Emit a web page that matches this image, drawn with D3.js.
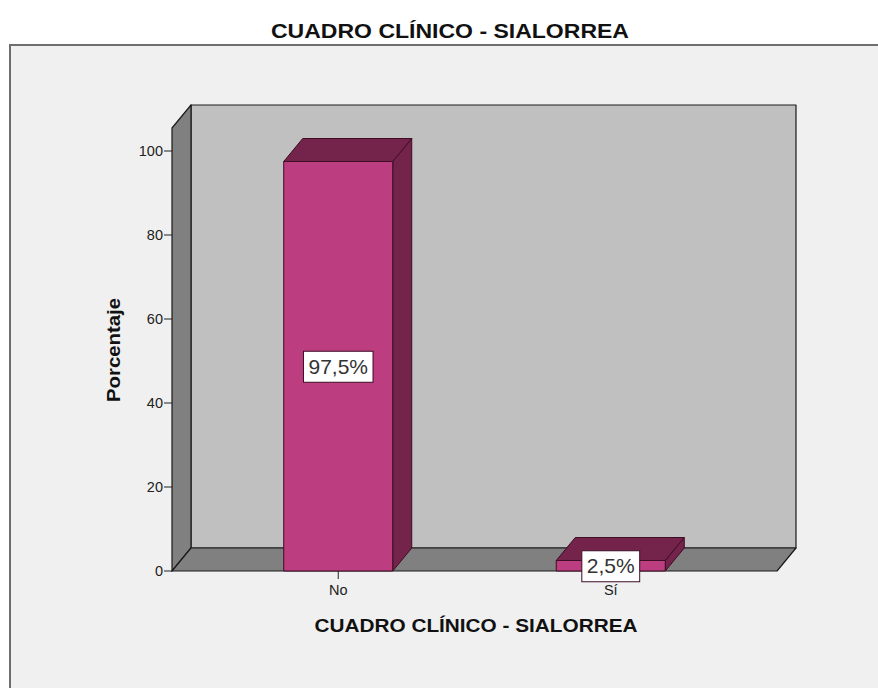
<!DOCTYPE html>
<html>
<head>
<meta charset="utf-8">
<script src="https://cdn.jsdelivr.net/npm/d3@7"></script>
<style>
  html, body { margin: 0; padding: 0; background: #ffffff; }
  svg { display: block; }
  text { font-family: "Liberation Sans", Arial, sans-serif; }
  .narrow { font-family: "Liberation Sans Narrow", "Arial Narrow", "Liberation Sans", Arial, sans-serif; }
</style>
</head>
<body>
<svg id="chart" width="878" height="688"></svg>
<script>
// Data
const categories = ["No", "Sí"];
const percentages = [97.5, 2.5];
const valueLabels = ["97,5%", "2,5%"];
const yTicks = [0, 20, 40, 60, 80, 100];
const chartTitle = "CUADRO CLÍNICO - SIALORREA";
const xTitle = "CUADRO CLÍNICO - SIALORREA";
const yTitle = "Porcentaje";

const svg = d3.select("#chart");

// Plot frame
const frame = { left: 172, right: 777, top: 151, bottom: 571 };
const depth = { dx: 19, dy: 23 };

const x = d3.scaleBand()
  .domain(categories)
  .range([frame.left, frame.right])
  .paddingInner(0.6)
  .paddingOuter(0.41);

const y = d3.scaleLinear()
  .domain([0, 100])
  .range([frame.bottom, frame.top]);

// Outer panel
svg.append("rect")
  .attr("x", 10).attr("y", 45)
  .attr("width", 900).attr("height", 700)
  .attr("fill", "#f0f0f0")
  .attr("stroke", "#6e6e6e").attr("stroke-width", 2);

// Titles
svg.append("text")
  .attr("class", "narrow")
  .attr("x", 450).attr("y", 38)
  .attr("text-anchor", "middle")
  .attr("font-weight", "bold").attr("font-size", 21)
  .attr("textLength", 358).attr("lengthAdjust", "spacingAndGlyphs")
  .attr("fill", "#111")
  .text(chartTitle);

svg.append("text")
  .attr("x", 476).attr("y", 632)
  .attr("text-anchor", "middle")
  .attr("font-weight", "bold").attr("font-size", 18)
  .attr("textLength", 323).attr("lengthAdjust", "spacingAndGlyphs")
  .attr("fill", "#111")
  .text(xTitle);

svg.append("text")
  .attr("transform", "translate(120,350) rotate(-90)")
  .attr("text-anchor", "middle")
  .attr("font-weight", "bold").attr("font-size", 18)
  .attr("textLength", 104).attr("lengthAdjust", "spacingAndGlyphs")
  .attr("fill", "#111")
  .text(yTitle);

// 3D walls
const y0 = y(0);
const sideTop = 128;
const backTop = sideTop - depth.dy;
const walls = svg.append("g").attr("stroke", "#1a1a1a").attr("stroke-width", 1.2).attr("stroke-linejoin", "round");

// back wall
walls.append("polygon")
  .attr("points", [
    [frame.left + depth.dx, backTop],
    [frame.right + depth.dx, backTop],
    [frame.right + depth.dx, y0 - depth.dy],
    [frame.left + depth.dx, y0 - depth.dy]
  ].join(" "))
  .attr("fill", "#c0c0c0");

// left side wall
walls.append("polygon")
  .attr("points", [
    [frame.left, sideTop],
    [frame.left + depth.dx, backTop],
    [frame.left + depth.dx, y0 - depth.dy],
    [frame.left, y0]
  ].join(" "))
  .attr("fill", "#808080");

// floor
walls.append("polygon")
  .attr("points", [
    [frame.left, y0],
    [frame.left + depth.dx, y0 - depth.dy],
    [frame.right + depth.dx, y0 - depth.dy],
    [frame.right, y0]
  ].join(" "))
  .attr("fill", "#808080");

// Y axis ticks and labels
const yAxis = svg.append("g");
yTicks.forEach(t => {
  yAxis.append("line")
    .attr("x1", frame.left - 8).attr("x2", frame.left)
    .attr("y1", y(t)).attr("y2", y(t))
    .attr("stroke", "#222").attr("stroke-width", 1);
  yAxis.append("text")
    .attr("x", frame.left - 9).attr("y", y(t))
    .attr("dy", "0.36em")
    .attr("text-anchor", "end")
    .attr("font-size", 14.5)
    .attr("fill", "#222")
    .text(t);
});

// X axis ticks and labels
categories.forEach(c => {
  const cx = x(c) + x.bandwidth() / 2;
  svg.append("line")
    .attr("x1", cx).attr("x2", cx)
    .attr("y1", y0).attr("y2", y0 + 8)
    .attr("stroke", "#222").attr("stroke-width", 1);
  svg.append("text")
    .attr("x", cx).attr("y", y0 + 24)
    .attr("text-anchor", "middle")
    .attr("font-size", 14.5)
    .attr("fill", "#222")
    .text(c);
});

// 3D bars
const bars = svg.append("g").attr("stroke", "#3d0d24").attr("stroke-width", 1).attr("stroke-linejoin", "round");
categories.forEach((c, i) => {
  const x0 = x(c), x1 = x(c) + x.bandwidth();
  const yv = y(percentages[i]);
  // side face
  bars.append("polygon")
    .attr("points", [[x1, yv], [x1 + depth.dx, yv - depth.dy], [x1 + depth.dx, y0 - depth.dy], [x1, y0]].join(" "))
    .attr("fill", "#74234b");
  // top face
  bars.append("polygon")
    .attr("points", [[x0, yv], [x0 + depth.dx, yv - depth.dy], [x1 + depth.dx, yv - depth.dy], [x1, yv]].join(" "))
    .attr("fill", "#74234b");
  // front face
  bars.append("rect")
    .attr("x", x0).attr("y", yv)
    .attr("width", x.bandwidth()).attr("height", y0 - yv)
    .attr("fill", "#bc3d80");
});

// Value labels
categories.forEach((c, i) => {
  const cx = x(c) + x.bandwidth() / 2;
  const cy = (y(percentages[i]) + y0) / 2;
  const g = svg.append("g");
  const t = g.append("text")
    .attr("x", cx).attr("y", cy)
    .attr("dy", "0.36em")
    .attr("text-anchor", "middle")
    .attr("font-size", 21)
    .attr("fill", "#333")
    .text(valueLabels[i]);
  const bb = t.node().getBBox();
  g.insert("rect", "text")
    .attr("x", bb.x - 5).attr("y", cy - 15)
    .attr("width", bb.width + 10).attr("height", 31)
    .attr("fill", "#ffffff")
    .attr("stroke", "#3d0d24").attr("stroke-width", 1);
});
</script>
</body>
</html>
